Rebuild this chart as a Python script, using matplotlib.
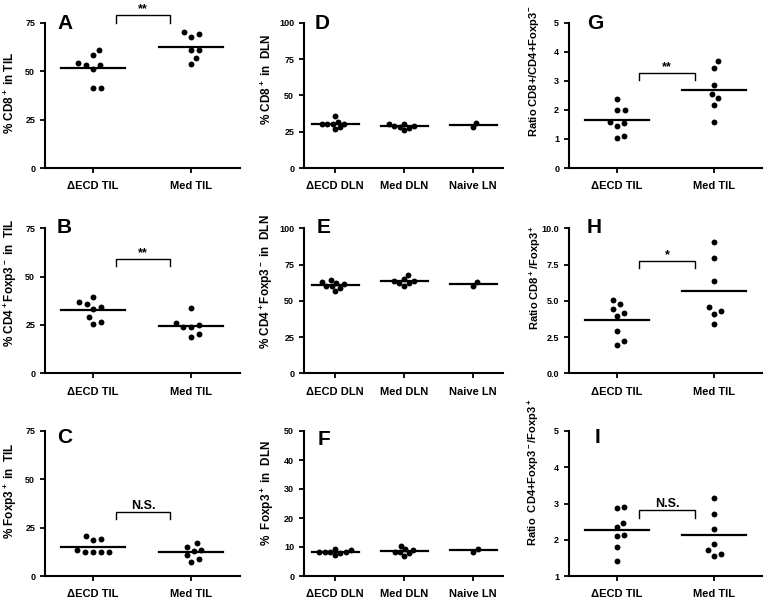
import numpy as np
import matplotlib
matplotlib.use('Agg')
import matplotlib.pyplot as plt

plt.rcParams['font.family'] = ['Liberation Sans', 'DejaVu Sans']
plt.rcParams['font.weight'] = 'bold'
plt.rcParams['mathtext.fontset'] = 'custom'
plt.rcParams['mathtext.bf'] = 'Liberation Sans:bold'
plt.rcParams['mathtext.rm'] = 'Liberation Sans:bold'
plt.rcParams['mathtext.default'] = 'bf'

# group names
til_groups = ['\u0394ECD TIL', 'Med TIL']
dln_groups = ['\u0394ECD DLN', 'Med DLN', 'Naive LN']

# values
a_decd = [54.4, 53.0, 51.3, 53.2, 58.3, 60.9, 41.5, 41.5]
a_med = [70.0, 67.8, 69.0, 60.9, 60.9, 56.6, 53.5]
b_decd = [37.1, 34.5, 33.1, 39.7, 35.9, 29.0, 25.5, 26.7]
b_med = [33.6, 25.9, 23.8, 23.8, 25.0, 19.0, 20.3]
c_decd = [13.4, 19.0, 18.6, 20.7, 12.2, 12.2, 12.2, 12.2]
c_med = [16.9, 13.4, 13.1, 15.2, 10.9, 7.4, 8.8]

d_decd = [30.5, 30.0, 32.0, 36.0, 26.5, 30.5, 28.5, 30.0]
d_med = [28.7, 27.6, 30.6, 25.9, 30.6, 28.0, 28.7]
d_naive = [27.9, 31.0]
e_decd = [62.5, 60.0, 64.5, 57.0, 63.0, 61.5, 59.0, 60.5]
e_med = [64.0, 62.0, 68.0, 60.5, 65.0, 62.0, 63.5]
e_naive = [60.0, 62.8]
f_decd = [8.2, 8.3, 9.0, 7.2, 8.3, 7.8, 9.3, 8.3]
f_med = [9.0, 8.4, 7.0, 10.4, 9.3, 7.8, 8.4]
f_naive = [8.4, 9.2]

g_decd = [2.38, 2.01, 2.01, 1.55, 1.44, 1.60, 1.03, 1.11]
g_med = [3.67, 3.44, 2.86, 2.56, 2.40, 2.18, 1.59]
h_decd = [5.06, 4.78, 4.46, 3.95, 4.18, 2.94, 1.98, 2.21]
h_med = [9.03, 7.93, 6.34, 4.32, 4.09, 4.55, 3.38]
i_decd = [2.87, 2.91, 2.47, 2.35, 2.10, 2.14, 1.80, 1.42]
i_med = [3.15, 2.70, 2.31, 1.89, 1.73, 1.56, 1.60]

W, H = 765, 601
fig = plt.figure(figsize=(W / 100, H / 100), dpi=100)

# pixel layout of the 3x3 grid
col_x = [(45, 240), (304, 503), (569, 762)]
row_y = [(22.7, 168), (228.3, 373.3), (431, 576)]


def swarm(ax, x0, vals, d_px):
    # simple beeswarm in pixel space, returns x positions in data units
    ys = ax.transData.transform([(x0, v) for v in vals])[:, 1]
    sx = ax.transData.transform((1, 0))[0] - ax.transData.transform((0, 0))[0]
    placed = []
    offs = np.zeros(len(vals))
    for i in np.argsort(ys):
        y = ys[i]
        cands = [0.0]
        for px, py in placed:
            dy = y - py
            if abs(dy) < d_px:
                dx = np.sqrt(d_px ** 2 - dy ** 2)
                cands += [px + dx, px - dx]
        cands.sort(key=lambda c: (round(abs(c), 3), -c))
        for c in cands:
            if all((c - px) ** 2 + (y - py) ** 2 >= d_px ** 2 - 1e-6 for px, py in placed):
                break
        placed.append((c, y))
        offs[i] = c
    return x0 + offs / sx


panels = [
    # letter, col, row, groups, data, ylim, yticks, yticklabels, ylabel, sig
    ('A', 0, 0, til_groups, [a_decd, a_med], (0, 75), [0, 25, 50, 75], None,
     r'% CD8$^+$ in TIL', ('**', 74.6, 78.9)),
    ('B', 0, 1, til_groups, [b_decd, b_med], (0, 75), [0, 25, 50, 75], None,
     r'% CD4$^+$Foxp3$^-$ in  TIL', ('**', 55.7, 59.0)),
    ('C', 0, 2, til_groups, [c_decd, c_med], (0, 75), [0, 25, 50, 75], None,
     r'% Foxp3$^+$ in  TIL', ('N.S.', 29.5, 33.3)),
    ('D', 1, 0, dln_groups, [d_decd, d_med, d_naive], (0, 100), [0, 25, 50, 75, 100], None,
     r'% CD8$^+$ in  DLN', None),
    ('E', 1, 1, dln_groups, [e_decd, e_med, e_naive], (0, 100), [0, 25, 50, 75, 100], None,
     r'% CD4$^+$Foxp3$^-$ in  DLN', None),
    ('F', 1, 2, dln_groups, [f_decd, f_med, f_naive], (0, 50), [0, 10, 20, 30, 40, 50], None,
     r'%  Foxp3$^+$ in  DLN', None),
    ('G', 2, 0, til_groups, [g_decd, g_med], (0, 5), [0, 1, 2, 3, 4, 5], None,
     r'Ratio CD8+/CD4+Foxp3$^-$', ('**', 3.02, 3.28)),
    ('H', 2, 1, til_groups, [h_decd, h_med], (0, 10), [0, 2.5, 5, 7.5, 10],
     ['0.0', '2.5', '5.0', '7.5', '10.0'],
     r'Ratio CD8$^+$/Foxp3$^+$', ('*', 7.24, 7.75)),
    ('I', 2, 2, til_groups, [i_decd, i_med], (1, 5), [1, 2, 3, 4, 5], None,
     r'Ratio  CD4+Foxp3$^-$/Foxp3$^+$', ('N.S.', 2.61, 2.82)),
]

# label placement (pixels): ylabel centre x, ylabel centre y, letter left x, letter baseline y
ylab_pos = {'A': (10, 93), 'B': (10, 283), 'C': (10, 491),
            'D': (267, 79), 'E': (266, 282), 'F': (267, 493),
            'G': (534, 71), 'H': (535, 277), 'I': (533, 472)}
letter_pos = {'A': (57, 29), 'B': (57, 233), 'C': (57, 443),
              'D': (315, 29), 'E': (317, 233), 'F': (318, 445),
              'G': (587, 29), 'H': (587, 233), 'I': (595, 443)}

for letter, c, r, groups, data, ylim, yticks, ytl, ylabel, sig in panels:
    x1, x2 = col_x[c]
    y1, y2 = row_y[r]
    ax = fig.add_axes([x1 / W, 1 - y2 / H, (x2 - x1) / W, (y2 - y1) / H])
    n = len(groups)
    if n == 2:
        ax.set_xlim(-0.49, 1.5)
        half, dpx = 0.33, 8.0
    else:
        ax.set_xlim(-0.45, 2.43)
        half, dpx = 0.34, 5.5
    ax.set_ylim(*ylim)

    for k, vals in enumerate(data):
        xs = swarm(ax, k, vals, dpx)
        ax.scatter(xs, vals, s=18, color='black', zorder=3, clip_on=False, linewidths=0)
        m = np.mean(vals)
        ax.plot([k - half, k + half], [m, m], color='black', lw=1.6, zorder=2)

    if sig is not None:
        txt, ylo, yhi = sig
        bx1, bx2 = (0.23, 0.79) if c == 0 else (0.23, 0.81)
        ax.plot([bx1, bx1, bx2, bx2], [ylo, yhi, yhi, ylo], color='black', lw=1.0, clip_on=False)
        ax.text((bx1 + bx2) / 2, yhi, txt, ha='center', va='bottom', fontsize=9, fontweight='bold')

    ax.set_xticks(range(n))
    ax.set_xticklabels(groups, fontsize=8, fontweight='bold')
    ax.set_yticks(yticks)
    if ytl is not None:
        ax.set_yticklabels(ytl)
    ax.tick_params(axis='y', labelsize=6.5, length=3.6, width=1.3, pad=3.5)
    ax.tick_params(axis='x', length=3.6, width=1.3, pad=6)
    for lab in ax.get_yticklabels():
        lab.set_fontweight('bold')
    for side in ['top', 'right']:
        ax.spines[side].set_visible(False)
    for side in ['left', 'bottom']:
        ax.spines[side].set_linewidth(1.5)

    lx, ly = ylab_pos[letter]
    fs = 8.5 if c < 2 else 8
    fig.text(lx / W, 1 - ly / H, ylabel, rotation=90, ha='center', va='center',
             fontsize=fs, fontweight='bold')
    px, py = letter_pos[letter]
    fig.text(px / W, 1 - py / H, letter, ha='left', va='baseline', fontsize=15, fontweight='bold')

fig.savefig('out.png', dpi=100)
